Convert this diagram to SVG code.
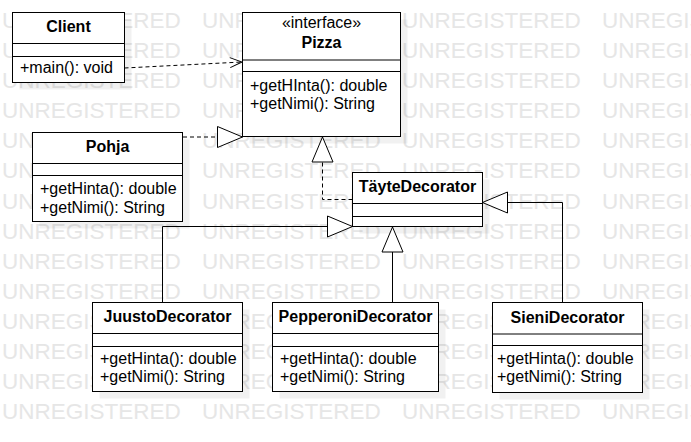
<svg xmlns="http://www.w3.org/2000/svg" xmlns:xlink="http://www.w3.org/1999/xlink" width="691" height="442" viewBox="0 0 691 442">
  <style>
    .box { fill:#ffffff; stroke:#000000; stroke-width:1; }
    .shadow { fill:#000000; fill-opacity:0.055; }
    .div { stroke:#000000; stroke-width:1; fill:none; }
    .t { font-family:"Liberation Sans", Arial, sans-serif; font-size:16px; fill:#000000; }
    .b { font-weight:bold; text-anchor:middle; }
    .c { text-anchor:middle; }
    .wm { font-family:"Liberation Sans", Arial, sans-serif; font-size:22.5px; fill:#e6e6e6; }
    .line { fill:none; stroke:#000000; stroke-width:1; }
    .dash { stroke-dasharray:4 3; }
  </style>
  <defs>
    <marker id="tri" markerUnits="userSpaceOnUse" markerWidth="28" markerHeight="24" refX="25.5" refY="11.5" orient="auto" overflow="visible">
      <path d="M0.5,1 L25.5,11.5 L0.5,22 Z" fill="#ffffff" stroke="#000000" stroke-width="1" stroke-dasharray="none"/>
    </marker>
    <marker id="open" markerUnits="userSpaceOnUse" markerWidth="14" markerHeight="12" refX="12.5" refY="5.5" orient="auto" overflow="visible">
      <path d="M0.5,0.5 L12.5,5.5 L0.5,10.5" fill="none" stroke="#000000" stroke-width="1" stroke-dasharray="none"/>
    </marker>
    <text id="wmrow" class="wm"><tspan x="2">UNREGISTERED</tspan><tspan x="202">UNREGISTERED</tspan><tspan x="402">UNREGISTERED</tspan><tspan x="602">UNREGISTERED</tspan></text>
  </defs>

  <rect width="691" height="442" fill="#ffffff"/>

  <g id="watermark">
    <use xlink:href="#wmrow" y="28"/>
    <use xlink:href="#wmrow" y="58.1"/>
    <use xlink:href="#wmrow" y="88.2"/>
    <use xlink:href="#wmrow" y="118.2"/>
    <use xlink:href="#wmrow" y="148.3"/>
    <use xlink:href="#wmrow" y="178.4"/>
    <use xlink:href="#wmrow" y="208.5"/>
    <use xlink:href="#wmrow" y="238.6"/>
    <use xlink:href="#wmrow" y="268.6"/>
    <use xlink:href="#wmrow" y="298.7"/>
    <use xlink:href="#wmrow" y="328.8"/>
    <use xlink:href="#wmrow" y="358.9"/>
    <use xlink:href="#wmrow" y="389"/>
    <use xlink:href="#wmrow" y="419"/>
  </g>

  <g id="shadows">
    <rect class="shadow" x="19.5" y="19.5" width="112" height="70"/>
    <rect class="shadow" x="249.5" y="19.5" width="158" height="124"/>
    <rect class="shadow" x="39.5" y="139.5" width="150" height="89"/>
    <rect class="shadow" x="359.5" y="179.5" width="130" height="54"/>
    <rect class="shadow" x="99.5" y="309.5" width="150" height="89"/>
    <rect class="shadow" x="279.5" y="309.5" width="166" height="89"/>
    <rect class="shadow" x="499.5" y="309.5" width="150" height="90"/>
  </g>

  <g id="connectors">
    <line class="line dash" x1="124.5" y1="68" x2="242" y2="62" marker-end="url(#open)"/>
    <line class="line dash" x1="183" y1="137" x2="242.5" y2="137" marker-end="url(#tri)"/>
    <polyline class="line dash" points="352.5,199.5 322.5,199.5 322.5,137" marker-end="url(#tri)"/>
    <polyline class="line" points="162.5,302.5 162.5,226.5 352.5,226.5" marker-end="url(#tri)"/>
    <line class="line" x1="392.5" y1="302.5" x2="392.5" y2="227" marker-end="url(#tri)"/>
    <polyline class="line" points="562.5,302.5 562.5,202.5 482.5,202.5" marker-end="url(#tri)"/>
  </g>

  <g id="Client">
    <rect class="box" x="12.5" y="12.5" width="112" height="70"/>
    <line class="div" x1="12.5" y1="43.5" x2="124.5" y2="43.5"/>
    <line class="div" x1="12.5" y1="56.5" x2="124.5" y2="56.5"/>
    <text class="t b" x="68.5" y="32.3">Client</text>
    <text class="t" x="20" y="73.3">+main(): void</text>
  </g>

  <g id="Pizza">
    <rect class="box" x="242.5" y="12.5" width="158" height="124"/>
    <line class="div" x1="242.5" y1="60" x2="400.5" y2="60" stroke-width="2"/>
    <line class="div" x1="242.5" y1="71.5" x2="400.5" y2="71.5"/>
    <text class="t c" x="321.5" y="28.3">«interface»</text>
    <text class="t b" x="321.5" y="48.3">Pizza</text>
    <text class="t" x="250" y="90.5">+getHInta(): double</text>
    <text class="t" x="250" y="109">+getNimi(): String</text>
  </g>

  <g id="Pohja">
    <rect class="box" x="32.5" y="132.5" width="150" height="89"/>
    <line class="div" x1="32.5" y1="163.5" x2="182.5" y2="163.5"/>
    <line class="div" x1="32.5" y1="175.5" x2="182.5" y2="175.5"/>
    <text class="t b" x="107.5" y="152.3">Pohja</text>
    <text class="t" x="40" y="194">+getHinta(): double</text>
    <text class="t" x="40" y="212.5">+getNimi(): String</text>
  </g>

  <g id="TayteDecorator">
    <rect class="box" x="352.5" y="172.5" width="130" height="54"/>
    <line class="div" x1="352.5" y1="203.5" x2="482.5" y2="203.5"/>
    <line class="div" x1="352.5" y1="216.5" x2="482.5" y2="216.5"/>
    <text class="t b" x="417.5" y="192.3">TäyteDecorator</text>
  </g>

  <g id="JuustoDecorator">
    <rect class="box" x="92.5" y="302.5" width="150" height="89"/>
    <line class="div" x1="92.5" y1="333.5" x2="242.5" y2="333.5"/>
    <line class="div" x1="92.5" y1="346.5" x2="242.5" y2="346.5"/>
    <text class="t b" x="167.5" y="322.3">JuustoDecorator</text>
    <text class="t" x="100" y="363.5">+getHinta(): double</text>
    <text class="t" x="100" y="382.3">+getNimi(): String</text>
  </g>

  <g id="PepperoniDecorator">
    <rect class="box" x="272.5" y="302.5" width="166" height="89"/>
    <line class="div" x1="272.5" y1="333.5" x2="438.5" y2="333.5"/>
    <line class="div" x1="272.5" y1="346.5" x2="438.5" y2="346.5"/>
    <text class="t b" x="355.5" y="322.3">PepperoniDecorator</text>
    <text class="t" x="280" y="363.5">+getHinta(): double</text>
    <text class="t" x="280" y="382.3">+getNimi(): String</text>
  </g>

  <g id="SieniDecorator">
    <rect class="box" x="492.5" y="302.5" width="150" height="90"/>
    <line class="div" x1="492.5" y1="334" x2="642.5" y2="334"/>
    <line class="div" x1="492.5" y1="345.5" x2="642.5" y2="345.5"/>
    <text class="t b" x="567.5" y="322.7">SieniDecorator</text>
    <text class="t" x="497" y="363.5">+getHinta(): double</text>
    <text class="t" x="497" y="382.3">+getNimi(): String</text>
  </g>
</svg>
